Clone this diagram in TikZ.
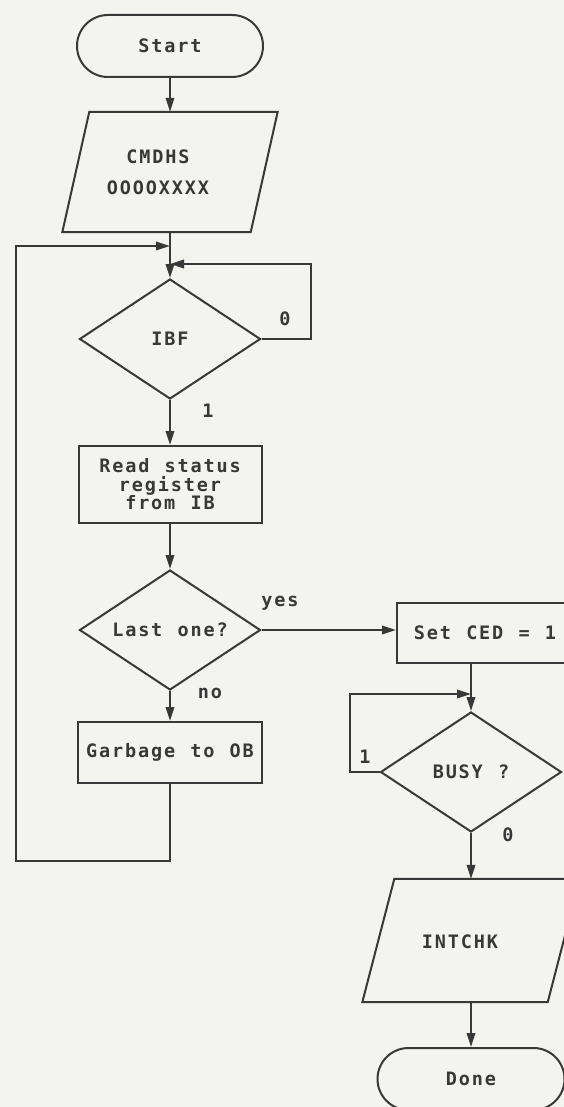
\documentclass[tikz,border=0pt]{standalone}
\usepackage{fontspec}
\usetikzlibrary{shapes.geometric,shapes.misc,arrows.meta,calc}
\newfontfamily\plotfont[LetterSpace=10,WordSpace={1.17,0,0}]{DejaVu Sans Mono Bold}
\definecolor{ink}{HTML}{383838}
\definecolor{paper}{HTML}{F3F3F0}
\begin{document}
\begin{tikzpicture}[x=1pt,y=-1pt,
  every node/.style={font=\plotfont\fontsize{18.5}{18.5}\selectfont, text=ink},
  line/.style={draw=ink, line width=2pt},
  arr/.style={line, -{Triangle[length=14pt,width=8.5pt]}},
  term/.style={line, rounded rectangle, minimum width=186pt, minimum height=62pt, inner sep=0pt},
  procbox/.style={line, rectangle, inner sep=0pt, align=center},
  decision/.style={line, diamond, minimum width=181pt, minimum height=120pt, inner sep=0pt, aspect=1.5},
  iobox/.style={inner sep=0pt, minimum height=120pt},
  lbl/.style={inner sep=0pt, align=center}
]
\fill[paper] (0,0) rectangle (564,1107);
\useasboundingbox (0,0) rectangle (564,1107);

% left column
\node[term] (start) at (170,46) {Start};

\node[iobox, minimum width=215pt] (cmd) at (170,172) {};
\draw[line] ([xshift=27pt]cmd.north west) -- (cmd.north east) -- ([xshift=-27pt]cmd.south east) -- (cmd.south west) -- cycle;
\node[lbl, font=\plotfont\fontsize{18.5}{31}\selectfont] (cmdtxt) at (158,172) {CMDHS\\OOOOXXXX};

\node[decision] (ibf) at (170,339) {IBF};
\node[lbl] (ibf0) at (285,319) {0};
\node[lbl] (ibf1) at (208,411) {1};

\node[procbox, minimum width=183pt, minimum height=77pt] (read) at (170,484.5) {Read status\\register\\from IB};

\node[decision] (last) at (170,630) {Last one?};
\node[lbl] (yes) at (280,603) {yes};
\node[lbl] (no) at (210,693) {no};

\node[procbox, minimum width=184pt, minimum height=61pt] (garb) at (170,752.5) {Garbage to OB};

% right column
\node[procbox, minimum width=176pt, minimum height=60pt] (setced) at (485,633) {Set CED = 1};

\node[decision] (busy) at (471,772) {BUSY ?};
\node[lbl] (busy1) at (365,757) {1};
\node[lbl] (busy0) at (508,835) {0};

\node[iobox, minimum width=217pt, minimum height=123pt] (intchk) at (471,940.5) {};
\draw[line] ([xshift=32pt]intchk.north west) -- (intchk.north east) -- ([xshift=-32pt]intchk.south east) -- (intchk.south west) -- cycle;
\node[lbl] (inttxt) at (460,942) {INTCHK};

\node[term, minimum width=187pt] (done) at (471,1079) {Done};

% junction and corner points
\coordinate (j1) at (170,246);
\coordinate (j2) at (170,264);
\coordinate (lb) at (16,861);
\coordinate (rc) at (311,264);
\coordinate (j3) at (471,694);
\coordinate (bc) at (350,694);

% connectors
\draw[arr] (start.south) -- (cmd.north);
\draw[arr] (cmd.south) -- (ibf.north);
\draw[arr] (ibf.east) -| (rc) -- (j2);
\draw[arr] (ibf.south) -- (read.north);
\draw[arr] (read.south) -- (last.north);
\draw[arr] (last.east) -- (last.east -| setced.west);
\draw[arr] (last.south) -- (garb.north);
\draw[arr] (garb.south) |- (lb) |- (j1);
\draw[arr] (busy.north |- setced.south) -- (busy.north);
\draw[arr] (busy.west) -| (bc) -- (j3);
\draw[arr] (busy.south) -- (intchk.north);
\draw[arr] (intchk.south) -- (done.north);
\end{tikzpicture}
\end{document}
